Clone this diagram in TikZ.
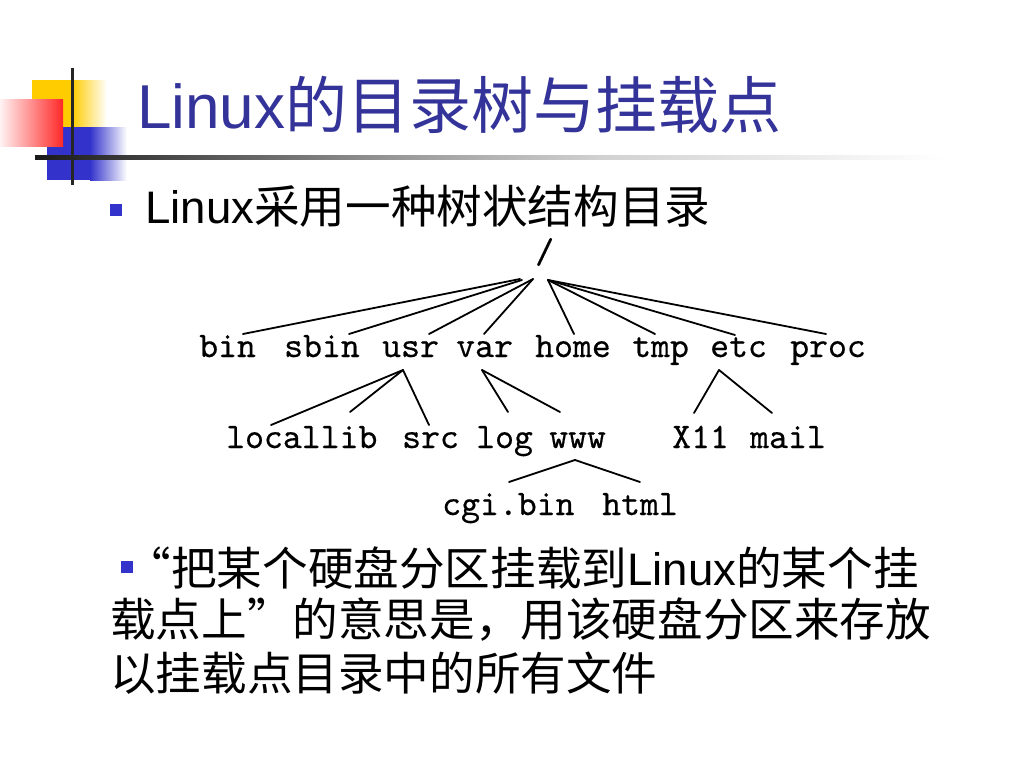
\documentclass[tikz,border=0pt]{standalone}
\usepackage{fontspec}
\setmainfont{Liberation Sans}
\newfontfamily\cjk{Noto Sans CJK SC}
\newfontfamily\treefont{lmmono10-regular}[Extension=.otf, FakeBold=0.4]
\definecolor{titleblue}{RGB}{51,51,153}
\definecolor{bulletblue}{RGB}{51,51,204}
\definecolor{logoyellow}{RGB}{255,204,0}
\definecolor{logored}{RGB}{255,40,40}
\definecolor{logoblue}{RGB}{51,51,204}
\begin{document}
\begin{tikzpicture}[x=1pt,y=-1pt,
  lbl/.style={anchor=base west, inner sep=0pt, font=\treefont\fontsize{36}{36}\selectfont},
  treeline/.style={line width=1.8pt, line cap=round},
  body/.style={anchor=base west, inner sep=0pt, font=\fontsize{45.6}{45.6}\selectfont},
  bulletsq/.style={fill=bulletblue}]
\useasboundingbox (0,0) rectangle (1024,768);
\fill[white] (0,0) rectangle (1024,768);

% logo
\fill[logoyellow] (32,80) rectangle (72,127);
\shade[left color=logoyellow, right color=white] (72,80) rectangle (107,127);
\fill[logoblue] (47,127) rectangle (90,180);
\shade[left color=logoblue, right color=white] (90,127) rectangle (127,180);
\shade[left color=red!5, right color=logored] (0,99) rectangle (63,146);
\shade[left color=black!90, right color=black!40] (35,155.5) rectangle (400,159.5);
\shade[left color=black!40, right color=black!18] (400,155.5) rectangle (600,159.5);
\shade[left color=black!18, right color=white] (600,155.5) rectangle (945,159.5);
\draw[line width=3pt, black!85] (72,68) -- (72,185);

% title
\node[anchor=base west, inner sep=0pt, text=titleblue, font=\fontsize{62}{62}\selectfont] (title) at (137,128) {Linux{\cjk 的目录树与挂载点}};

% subtitle
\fill[bulletsq] (110,204) rectangle (122,216);
\node[body] (sub) at (145,223) {Linux{\cjk 采用一种树状结构目录}};

% tree
\node[lbl] (root) at (535,263) {/};
\node[lbl] (bin)  at (199,357) {bin};
\node[lbl] (sbin) at (284,357) {sbin};
\node[lbl] (usr)  at (382,357) {usr};
\node[lbl] (var)  at (456,357) {var};
\node[lbl] (home) at (535,357) {home};
\node[lbl] (tmp)  at (632,357) {tmp};
\node[lbl] (etc)  at (710,357) {etc};
\node[lbl] (proc) at (790,357) {proc};
\node[lbl] (locallib) at (226,448) {locallib};
\node[lbl] (src)  at (402,448) {src};
\node[lbl] (log)  at (476,448) {log};
\node[lbl] (www)  at (549,448) {www};
\node[lbl] (x11)  at (672,448) {X11};
\node[lbl] (mail) at (750,448) {mail};
\node[lbl] (cgi)  at (442,515) {cgi.bin};
\node[lbl] (html) at (602,515) {html};

\coordinate (rootA) at (520,279);
\coordinate (rootB) at (522,280);
\coordinate (rootC) at (533,279);
\coordinate (rootD) at (548,280);
\coordinate (bin-top)  at (243,334);
\coordinate (sbin-top) at (349,334);
\coordinate (usr-top)  at (429,334);
\coordinate (var-top)  at (484,334);
\coordinate (home-top) at (574,334);
\coordinate (tmp-top)  at (655,334);
\coordinate (etc-top)  at (735,335);
\coordinate (proc-top) at (826,334);
\coordinate (usr-foot) at (403,370);
\coordinate (var-foot) at (482,370);
\coordinate (etc-foot) at (719,370);
\coordinate (www-foot) at (575,460);
\coordinate (local-top) at (271,425);
\coordinate (lib-top)  at (350,412);
\coordinate (src-top)  at (429,425);
\coordinate (log-top)  at (508,412);
\coordinate (www-top)  at (560,412);
\coordinate (x11-top)  at (694,413);
\coordinate (mail-top) at (772,413);
\coordinate (cgi-top)  at (509,482);
\coordinate (html-top) at (640,482);

\draw[treeline] (rootA) -- (bin-top);
\draw[treeline] (rootB) -- (sbin-top);
\draw[treeline] (rootC) -- (usr-top);
\draw[treeline] (rootC) -- (var-top);
\draw[treeline] (rootD) -- (home-top);
\draw[treeline] (rootD) -- (tmp-top);
\draw[treeline] (rootD) -- (etc-top);
\draw[treeline] (rootD) -- (proc-top);
\draw[treeline] (usr-foot) -- (local-top);
\draw[treeline] (usr-foot) -- (lib-top);
\draw[treeline] (usr-foot) -- (src-top);
\draw[treeline] (var-foot) -- (log-top);
\draw[treeline] (var-foot) -- (www-top);
\draw[treeline] (etc-foot) -- (x11-top);
\draw[treeline] (etc-foot) -- (mail-top);
\draw[treeline] (www-foot) -- (cgi-top);
\draw[treeline] (www-foot) -- (html-top);

% body text
\fill[bulletsq] (121,561) rectangle (133,573);
\node[body] (line1) at (147,585) {\makebox[24pt][r]{\cjk “}{\cjk 把某个硬盘分区挂载到}Linux{\cjk 的某个挂}};
\node[body] (line2) at (110,636) {\cjk 载点上\makebox[45.6pt][l]{”}的意思是，用该硬盘分区来存放};
\node[body] (line3) at (110,690) {\cjk 以挂载点目录中的所有文件};
\end{tikzpicture}
\end{document}
